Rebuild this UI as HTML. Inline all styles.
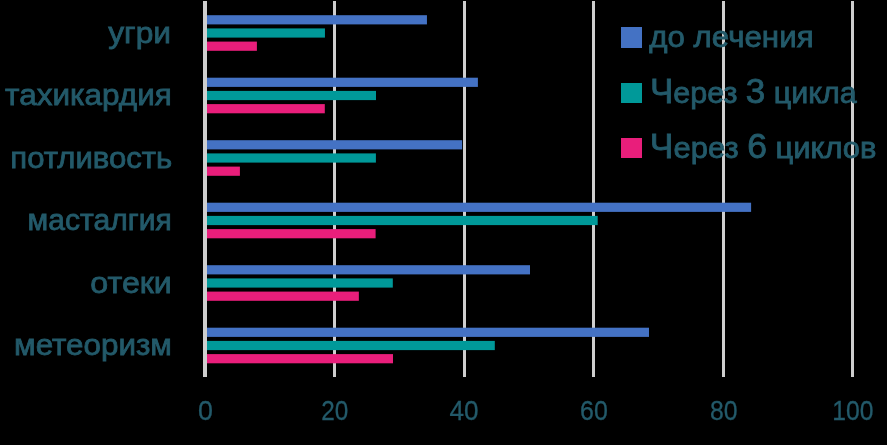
<!DOCTYPE html>
<html><head><meta charset="utf-8">
<style>
html,body{margin:0;padding:0;background:#000;}
body{width:887px;height:445px;overflow:hidden;position:relative;}
svg{position:absolute;left:0;top:0;display:block;will-change:transform;}
text{font-family:"Liberation Sans",sans-serif;}
</style></head><body>
<svg width="887" height="445" viewBox="0 0 887 445">
<rect x="0" y="0" width="887" height="445" fill="#000"/>
<g fill="#CECECE">
<rect x="333" y="1" width="3" height="376"/>
<rect x="463" y="1" width="3" height="376"/>
<rect x="592" y="1" width="3" height="376"/>
<rect x="722" y="1" width="3" height="376"/>
<rect x="851" y="1" width="3" height="376"/>
</g>
<rect x="205.50" y="15.20" width="221.45" height="9.20" fill="#4472C4"/>
<rect x="205.50" y="28.40" width="119.45" height="9.20" fill="#009999"/>
<rect x="205.50" y="41.60" width="51.40" height="9.20" fill="#E91E7B"/>
<rect x="205.50" y="77.70" width="272.40" height="9.20" fill="#4472C4"/>
<rect x="205.50" y="90.90" width="170.50" height="9.20" fill="#009999"/>
<rect x="205.50" y="104.10" width="119.30" height="9.20" fill="#E91E7B"/>
<rect x="205.50" y="140.20" width="256.60" height="9.20" fill="#4472C4"/>
<rect x="205.50" y="153.40" width="170.40" height="9.20" fill="#009999"/>
<rect x="205.50" y="166.60" width="34.40" height="9.20" fill="#E91E7B"/>
<rect x="205.50" y="202.70" width="545.60" height="9.20" fill="#4472C4"/>
<rect x="205.50" y="215.90" width="392.20" height="9.20" fill="#009999"/>
<rect x="205.50" y="229.10" width="170.10" height="9.20" fill="#E91E7B"/>
<rect x="205.50" y="265.20" width="324.50" height="9.20" fill="#4472C4"/>
<rect x="205.50" y="278.40" width="187.30" height="9.20" fill="#009999"/>
<rect x="205.50" y="291.60" width="153.35" height="9.20" fill="#E91E7B"/>
<rect x="205.50" y="327.70" width="443.50" height="9.20" fill="#4472C4"/>
<rect x="205.50" y="340.90" width="289.30" height="9.20" fill="#009999"/>
<rect x="205.50" y="354.10" width="187.50" height="9.20" fill="#E91E7B"/>
<rect x="203" y="1" width="4" height="376" fill="#CECECE"/>
<g font-size="30" fill="#235A6A" stroke="#235A6A" stroke-width="0.8">
<text x="108.26" y="42.70" textLength="62.81" lengthAdjust="spacingAndGlyphs">угри</text>
<text x="5.11" y="104.60" textLength="166.81" lengthAdjust="spacingAndGlyphs">тахикардия</text>
<text x="10.37" y="167.60" textLength="161.88" lengthAdjust="spacingAndGlyphs">потливость</text>
<text x="27.61" y="229.60" textLength="144.12" lengthAdjust="spacingAndGlyphs">масталгия</text>
<text x="90.36" y="292.60" textLength="81.46" lengthAdjust="spacingAndGlyphs">отеки</text>
<text x="14.07" y="354.60" textLength="157.83" lengthAdjust="spacingAndGlyphs">метеоризм</text>
</g>
<g font-size="27.5" fill="#235A6A" stroke="#235A6A" stroke-width="0.3" text-anchor="middle">
<text x="205.50" y="419.60" textLength="14.93" lengthAdjust="spacingAndGlyphs">0</text>
<text x="334.78" y="419.60" textLength="27.08" lengthAdjust="spacingAndGlyphs">20</text>
<text x="463.91" y="419.60" textLength="29.04" lengthAdjust="spacingAndGlyphs">40</text>
<text x="593.89" y="419.60" textLength="27.73" lengthAdjust="spacingAndGlyphs">60</text>
<text x="723.67" y="419.60" textLength="27.58" lengthAdjust="spacingAndGlyphs">80</text>
<text x="852.90" y="419.60" textLength="41.19" lengthAdjust="spacingAndGlyphs">100</text>
</g>
<rect x="621" y="27" width="21" height="21" fill="#4472C4"/>
<rect x="621" y="83" width="21" height="20" fill="#009999"/>
<rect x="621" y="138" width="21" height="20" fill="#E91E7B"/>
<g font-size="30" fill="#235A6A" stroke="#235A6A" stroke-width="0.8">
<text x="649.18" y="47.20" textLength="164.41" lengthAdjust="spacingAndGlyphs">до лечения</text>
<text x="649.91" y="102.80" textLength="206.79" lengthAdjust="spacingAndGlyphs"><tspan font-size="34.5">Ч</tspan>ерез <tspan font-size="34.5">3</tspan> цикла</text>
<text x="649.88" y="157.80" textLength="226.55" lengthAdjust="spacingAndGlyphs"><tspan font-size="34.5">Ч</tspan>ерез <tspan font-size="34.5">6</tspan> циклов</text>
</g>
</svg>
</body></html>
